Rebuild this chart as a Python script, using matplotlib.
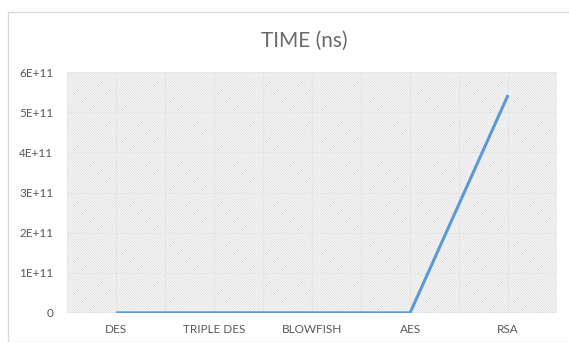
import matplotlib.pyplot as plt
from matplotlib.patches import Rectangle

categories = ["DES", "TRIPLE DES", "BLOWFISH", "AES", "RSA"]
time_ns = [0.002e11, 0.004e11, 0.003e11, 0.002e11, 5.43e11]
y_ticks = [0, 1e11, 2e11, 3e11, 4e11, 5e11, 6e11]
y_labels = ["0", "1E+11", "2E+11", "3E+11", "4E+11", "5E+11", "6E+11"]

plt.rcParams["font.family"] = ["Lato", "DejaVu Sans"]
plt.rcParams["hatch.linewidth"] = 0.5

fig = plt.figure(figsize=(5.69, 3.42), dpi=100)
ax = fig.add_axes([0.118, 0.085, 0.861, 0.704])

# outer chart border
fig.patches.append(Rectangle((8 / 569, 0.0), 1.0, 1 - 12 / 342, transform=fig.transFigure,
                             fill=False, edgecolor="#d9d9d9", lw=1.0))

x = list(range(len(categories)))
ax.set_xlim(-0.5, len(categories) - 0.5)
ax.set_ylim(0, 6e11)

# hatched plot area
ax.add_patch(Rectangle((0, 0), 1, 1, transform=ax.transAxes, facecolor="white",
                       edgecolor="#d6d6d6", hatch="\\" * 14, lw=0, zorder=0))

for yv in y_ticks:
    ax.axhline(yv, color="#e6e6e6", lw=1.0, zorder=1)
for i in range(len(categories) * 2 + 1):
    ax.axvline(-0.5 + i * 0.5, color="#e6e6e6", lw=1.0, zorder=1)

ax.plot(x, time_ns, color="#5b9bd5", lw=2.2, solid_capstyle="butt", zorder=3)

ax.set_yticks(y_ticks)
ax.set_yticklabels(y_labels)
ax.set_xticks(x)
ax.set_xticklabels(categories)
ax.tick_params(length=0, colors="#595959", labelsize=8.5)
ax.tick_params(axis="y", pad=10)
ax.tick_params(axis="x", pad=8)
for s in ax.spines.values():
    s.set_visible(False)
ax.axhline(0, color="#d0d0d0", lw=1.0, zorder=2)

fig.text(0.535, 0.88, "TIME (ns)", ha="center", va="center", fontsize=15,
         color="#6a6a6a")

fig.savefig("out.png", dpi=100)
